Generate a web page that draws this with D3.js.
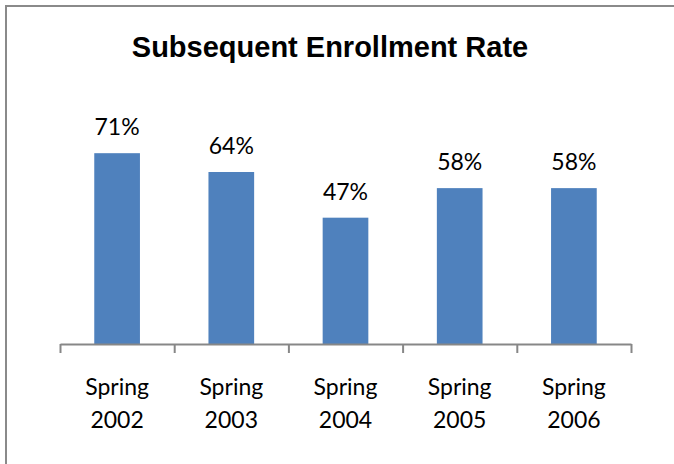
<!DOCTYPE html>
<html><head><meta charset="utf-8">
<script src="https://cdn.jsdelivr.net/npm/d3@7"></script>
<style>html,body{margin:0;padding:0;background:#fff;}svg{display:block;}</style>
</head><body>
<script>
const categories = ["Spring 2002", "Spring 2003", "Spring 2004", "Spring 2005", "Spring 2006"];
const values = [71, 64, 47, 58, 58];
const valueLabels = ["71%", "64%", "47%", "58%", "58%"];
const title = "Subsequent Enrollment Rate";

const W = 674, H = 464;
const svg = d3.select("body").append("svg").attr("width", W).attr("height", H);
svg.append("rect").attr("width", W).attr("height", H).attr("fill", "#fff");
svg.append("rect").attr("x", 6).attr("y", 6).attr("width", 720).attr("height", 520)
  .attr("fill", "none").attr("stroke", "#8a8a8a").attr("stroke-width", 2);

const x0 = 60, x1 = 631, yBase = 344;
const x = d3.scaleBand().domain(categories).range([x0, x1]).paddingInner(0.6).paddingOuter(0.3);
const y = d3.scaleLinear().domain([0, 80]).range([yBase, 129]);

svg.append("text").attr("x", 330).attr("y", 57).attr("text-anchor", "middle")
  .attr("font-family", "'Liberation Sans', Arial, sans-serif").attr("font-weight", "bold")
  .attr("font-size", 29).attr("fill", "#000").text(title);

svg.selectAll("rect.bar").data(values).join("rect").attr("class", "bar")
  .attr("x", (d, i) => x(categories[i])).attr("width", x.bandwidth())
  .attr("y", d => y(d)).attr("height", d => yBase - y(d)).attr("fill", "#4F81BD");

svg.selectAll("text.val").data(values).join("text").attr("class", "val")
  .attr("x", (d, i) => x(categories[i]) + x.bandwidth() / 2)
  .attr("y", d => y(d) - 18).attr("text-anchor", "middle")
  .attr("font-family", "Lato, sans-serif").attr("font-size", 23).attr("fill", "#000")
  .text((d, i) => valueLabels[i]);

// axis with ticks at band boundaries
const edge = d3.scaleLinear().domain([0, categories.length]).range([x0, x1]);
const axis = svg.append("g").attr("transform", `translate(0,${yBase})`)
  .call(d3.axisBottom(edge).tickValues(d3.range(categories.length + 1)).tickFormat("").tickSize(9).tickSizeOuter(0));
axis.selectAll("path,line").attr("stroke", "#878787").attr("stroke-width", 2);

const lab = svg.selectAll("text.cat").data(categories).join("text").attr("class", "cat")
  .attr("text-anchor", "middle").attr("font-family", "Lato, sans-serif").attr("font-size", 23).attr("fill", "#000");
lab.each(function(d) {
  const parts = d.split(" ");
  const t = d3.select(this);
  const cx = x(d) + x.bandwidth() / 2;
  t.append("tspan").attr("x", cx).attr("y", 395).text(parts[0]);
  t.append("tspan").attr("x", cx).attr("y", 428).text(parts[1]);
});
</script>
</body></html>
